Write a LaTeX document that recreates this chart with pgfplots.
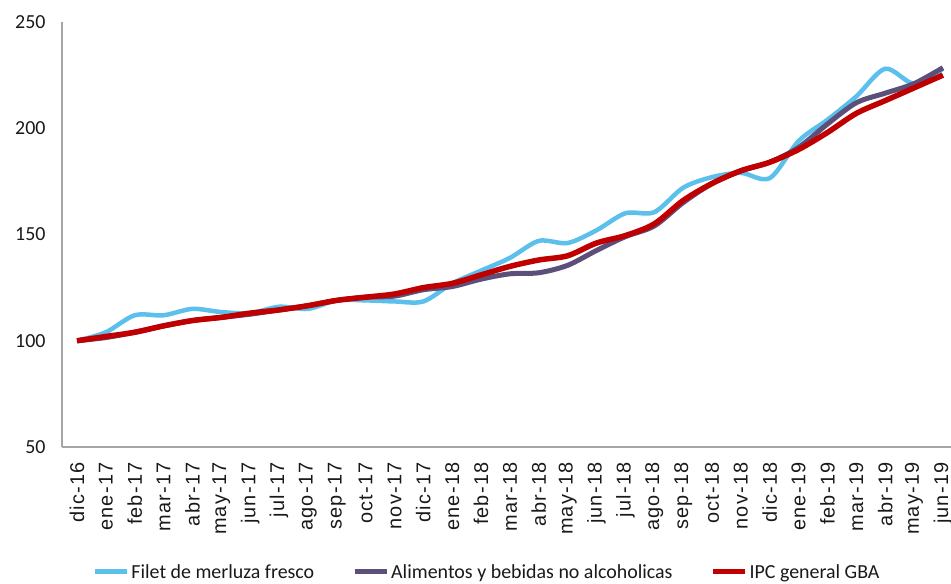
\documentclass[border=0pt]{standalone}
\usepackage{fontspec}
\setmainfont{Carlito}
\newfontfamily\xfont[LetterSpace=6]{Liberation Sans}
\usepackage{pgfplots}
\pgfplotsset{compat=1.18}
\usepackage{pgfplotstable}
\definecolor{cFilet}{RGB}{91,192,235}
\definecolor{cAlim}{RGB}{92,80,122}
\definecolor{cIPC}{RGB}{192,0,0}
\definecolor{cAxis}{RGB}{165,165,165}
\pgfplotstableread{
x filet alim ipc
0 100 100 100
1 104 101.5 102
2 112 104 104
3 112 107 107
4 115 109.5 109.5
5 113.5 111 111
6 113 112.5 113
7 116 114.5 114.5
8 115 116.5 116.5
9 119 119 119
10 119 120.5 120.5
11 118.5 121 122
12 118.5 124 125
13 127 125.5 127
14 133 129 131
15 139 131.5 135
16 147 132 138
17 146 135.5 140
18 152 142.5 146
19 160 149 149.5
20 160.5 154 155
21 172 165 166
22 177 174 174
23 179 180 180
24 176.5 184 184
25 194 191 190
26 204 202 198
27 215 212 207
28 228 216.5 213
29 221 221 219
30 228 228.5 225
}\data
\begin{document}
\begin{tikzpicture}
\useasboundingbox (-62bp,-137bp) rectangle (889bp,447bp);
\begin{axis}[
  scale only axis, width=889bp, height=425bp,
  xmin=-0.52, xmax=30.28, ymin=50, ymax=250,
  axis x line*=bottom, axis y line*=left,
  axis line style={cAxis, line width=1.2bp, -},
  ytick={50,100,150,200,250},
  xtick={0,...,30},
  xticklabels={dic-16,ene-17,feb-17,mar-17,abr-17,may-17,jun-17,jul-17,ago-17,sep-17,oct-17,nov-17,dic-17,ene-18,feb-18,mar-18,abr-18,may-18,jun-18,jul-18,ago-18,sep-18,oct-18,nov-18,dic-18,ene-19,feb-19,mar-19,abr-19,may-19,jun-19},
  major tick length=0pt,
  /pgf/number format/assume math mode=true,
  yticklabel style={font=\fontsize{20}{20}\selectfont, text=black!90, xshift=-13bp},
  xticklabel style={font=\xfont\fontsize{20}{20}\selectfont, text=black!90, rotate=90, anchor=east},
  xticklabel shift=12bp,
  legend style={at={(0.478,-0.294)}, anchor=center, legend columns=3, draw=none, fill=none,
    font=\fontsize{20}{20}\selectfont, text=black!90,
    /tikz/every even column/.append style={column sep=36bp}},
  legend image code/.code={\draw[#1, line width=5bp] (0bp,0bp) -- (32bp,0bp);},
]
\addplot[cFilet, line width=4.5bp, smooth] table[x=x, y=filet] {\data};
\addlegendentry{Filet de merluza fresco}
\addplot[cAlim, line width=5bp, smooth] table[x=x, y=alim] {\data};
\addlegendentry{Alimentos y bebidas no alcoholicas}
\addplot[cIPC, line width=5.5bp, smooth] table[x=x, y=ipc] {\data};
\addlegendentry{IPC general GBA}
\end{axis}
\end{tikzpicture}
\end{document}
